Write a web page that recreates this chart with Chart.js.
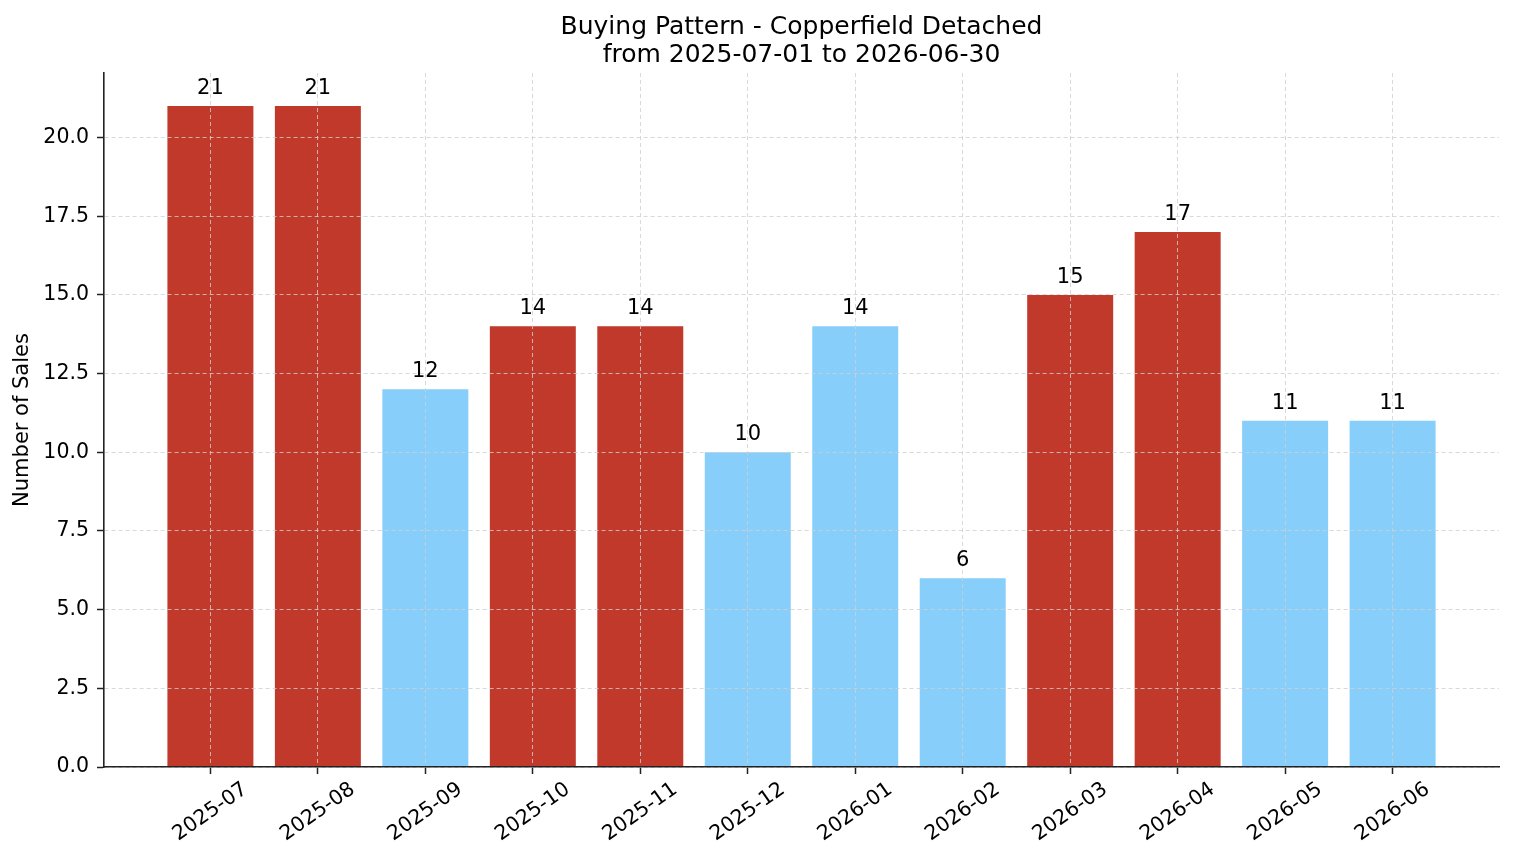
<!DOCTYPE html>
<html>
<head>
<meta charset="utf-8">
<script src="https://cdn.jsdelivr.net/npm/chart.js@4.4.1/dist/chart.umd.min.js"></script>
<style>
  html, body { margin: 0; padding: 0; background: #fff; }
  #wrap { width: 1514px; height: 863px; }
</style>
</head>
<body>
<div id="wrap"><canvas id="chart" width="1514" height="863"></canvas></div>
<script>
// ---- data ----
const months = ["2025-07","2025-08","2025-09","2025-10","2025-11","2025-12",
                "2026-01","2026-02","2026-03","2026-04","2026-05","2026-06"];
const sales  = [21, 21, 12, 14, 14, 10, 14, 6, 15, 17, 11, 11];
// 1 = highlighted (red) month, 0 = normal (blue)
const highlighted = [1, 1, 0, 1, 1, 0, 0, 0, 1, 1, 0, 0];
const yTicks = [0, 2.5, 5, 7.5, 10, 12.5, 15, 17.5, 20];

const titleLines = ["Buying Pattern - Copperfield Detached", "from 2025-07-01 to 2026-06-30"];
const yLabel = "Number of Sales";

const RED = "#c0392b";
const BLUE = "#87cefa";
const FONT = "'DejaVu Sans', sans-serif";

// draws titles, rotated month labels and the value labels on the bars
const textPlugin = {
  id: "textPlugin",
  afterDraw(chart) {
    const ctx = chart.ctx;
    const area = chart.chartArea;
    const xs = chart.scales.x;
    const ys = chart.scales.y;
    ctx.save();
    ctx.fillStyle = "#000";

    // title
    ctx.font = "25px " + FONT;
    ctx.textAlign = "center";
    ctx.textBaseline = "alphabetic";
    const cx = (area.left + area.right) / 2;
    ctx.fillText(titleLines[0], cx, 34);
    ctx.fillText(titleLines[1], cx, 62);

    // y axis label
    ctx.font = "21px " + FONT;
    ctx.save();
    ctx.translate(23, (area.top + area.bottom) / 2);
    ctx.rotate(-Math.PI / 2);
    ctx.textBaseline = "middle";
    ctx.fillText(yLabel, 0, 0);
    ctx.restore();

    // x tick labels, rotated 35 deg, centred on the tick
    ctx.font = "20.5px " + FONT;
    months.forEach((m, i) => {
      const px = xs.getPixelForValue(i);
      ctx.save();
      ctx.translate(px, area.bottom + 45);
      ctx.rotate(-35 * Math.PI / 180);
      ctx.textAlign = "center";
      ctx.textBaseline = "middle";
      ctx.fillText(m, 0, 0);
      ctx.restore();
    });

    // value labels
    ctx.font = "21px " + FONT;
    ctx.textAlign = "center";
    ctx.textBaseline = "alphabetic";
    sales.forEach((v, i) => {
      const px = xs.getPixelForValue(i);
      const py = ys.getPixelForValue(v);
      ctx.fillText(String(v), px, py - 12);
    });
    ctx.restore();
  }
};

// grid is drawn on top of the bars (z > 0), like the reference
const gridStyle = {
  z: 1,
  color: "rgba(208,208,208,0.8)",
  lineWidth: 1,
  offset: false,
  drawTicks: true,
  tickLength: 7,
  tickColor: "#222",
  tickWidth: 1.5,
  tickBorderDash: []
};

new Chart(document.getElementById("chart").getContext("2d"), {
  type: "bar",
  data: {
    datasets: [{
      data: sales.map((v, i) => ({ x: i, y: v })),
      backgroundColor: highlighted.map(h => h ? RED : BLUE),
      borderWidth: 0,
      inflateAmount: 0,
      categoryPercentage: 1.0,
      barPercentage: 0.8
    }]
  },
  options: {
    responsive: false,
    animation: false,
    events: [],
    layout: { padding: { left: 0, right: 15, top: 73, bottom: 0 } },
    plugins: { legend: { display: false }, tooltip: { enabled: false }, title: { display: false } },
    scales: {
      x: {
        type: "linear",
        min: -0.99,
        max: 11.99,
        offset: false,
        grid: gridStyle,
        border: { display: true, z: 2, color: "#222", width: 1.6, dash: [4, 3] },
        ticks: { display: false, stepSize: 1, includeBounds: false },
        afterFit: s => { s.height = 96; }
      },
      y: {
        min: 0,
        max: 22.05,
        grid: gridStyle,
        border: { display: true, z: 2, color: "#222", width: 1.6, dash: [4, 3] },
        afterBuildTicks: s => { s.ticks = yTicks.map(v => ({ value: v })); },
        ticks: {
          padding: 8,
          color: "#000",
          font: { family: FONT, size: 20.5 },
          callback: v => Number(v).toFixed(1)
        },
        afterFit: s => { s.width = 104; }
      }
    }
  },
  plugins: [textPlugin]
});
</script>
</body>
</html>
